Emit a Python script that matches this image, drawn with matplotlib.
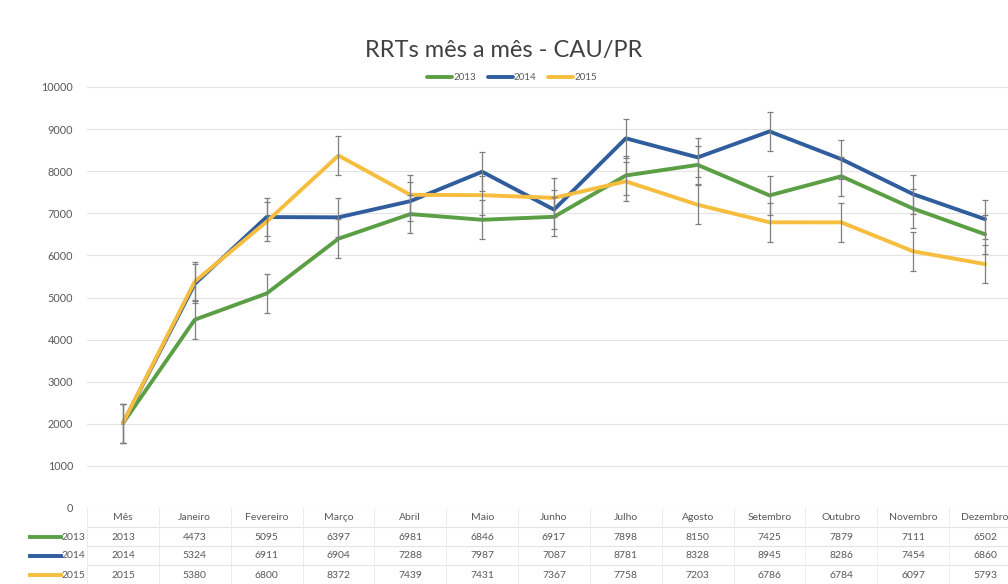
import numpy as np
import matplotlib.pyplot as plt
from matplotlib.transforms import blended_transform_factory

plt.rcParams['font.family'] = ['Lato', 'DejaVu Sans']

months = ["Mês", "Janeiro", "Fevereiro", "Março", "Abril", "Maio", "Junho",
          "Julho", "Agosto", "Setembro", "Outubro", "Novembro", "Dezembro"]
years = ["2013", "2014", "2015"]
v2013 = [2013, 4473, 5095, 6397, 6981, 6846, 6917, 7898, 8150, 7425, 7879, 7111, 6502]
v2014 = [2014, 5324, 6911, 6904, 7288, 7987, 7087, 8781, 8328, 8945, 8286, 7454, 6860]
v2015 = [2015, 5380, 6800, 8372, 7439, 7431, 7367, 7758, 7203, 6786, 6784, 6097, 5793]
err = 460
colors = ['#5b9f45', '#2f5d9e', '#f6bd3e']
series = [v2013, v2014, v2015]

fig = plt.figure(figsize=(10.08, 5.84), dpi=100)
ax = fig.add_axes([87/1008, 76/584, 934/1008, 421/584])
x = np.arange(len(months))

for vals, c, yr in zip(series, colors, years):
    ax.plot(x, vals, color=c, lw=2.8, label=yr, solid_capstyle='round', zorder=3)
for vals in series:
    ax.errorbar(x, vals, yerr=err, fmt='none', ecolor='#7f7f7f', elinewidth=0.9,
                capsize=2.5, capthick=0.9, zorder=4)

ax.set_xlim(-0.5, len(months) - 0.5)
ax.set_ylim(0, 10000)
ax.set_yticks(np.arange(0, 10001, 1000))
ax.tick_params(axis='y', length=0, labelsize=7.8, labelcolor='#595959', pad=10)
ax.set_xticks([])
ax.grid(axis='y', color='#e3e3e3', lw=0.8)
ax.set_axisbelow(True)
for s in ax.spines.values():
    s.set_visible(False)

# data table under the chart
tr = blended_transform_factory(ax.transData, ax.transAxes)
ph = 421.0
row_y = [-10, -29, -48, -67]
line_y = [0, -19, -38, -57]
for ly in line_y[1:]:
    ax.plot([-0.5, len(months) - 0.5], [ly/ph]*2, transform=tr, color='#e3e3e3',
            lw=0.8, clip_on=False)
for i in range(len(months) + 1):
    ax.plot([i - 0.5]*2, [0, -76/ph], transform=tr, color='#ececec', lw=0.7, clip_on=False)
for i, m in enumerate(months):
    ax.text(i, row_y[0]/ph, m, transform=tr, ha='center', va='center',
            fontsize=7.5, color='#595959')
for r, (vals, c, yr) in enumerate(zip(series, colors, years)):
    yy = row_y[r + 1]/ph
    for i, v in enumerate(vals):
        ax.text(i, yy, str(v), transform=tr, ha='center', va='center',
                fontsize=7.5, color='#595959')
    fig.lines.append(plt.Line2D([30/1008, 61/1008], [(584 - 508 + row_y[r + 1])/584]*2,
                                transform=fig.transFigure, color=c, lw=2.8))
    fig.text(61/1008, (584 - 508 + row_y[r + 1])/584, yr, ha='left', va='center',
             fontsize=7.5, color='#595959')

fig.suptitle("RRTs mês a mês - CAU/PR", y=1 - 40/584, fontsize=17, color='#404040')
fig.legend(loc='center', bbox_to_anchor=(512/1008, 1 - 78/584), ncol=3, frameon=False,
           fontsize=7, labelcolor='#595959', handlelength=2.6, handletextpad=0.1,
           columnspacing=1.2)

fig.savefig('out.png', dpi=100)
